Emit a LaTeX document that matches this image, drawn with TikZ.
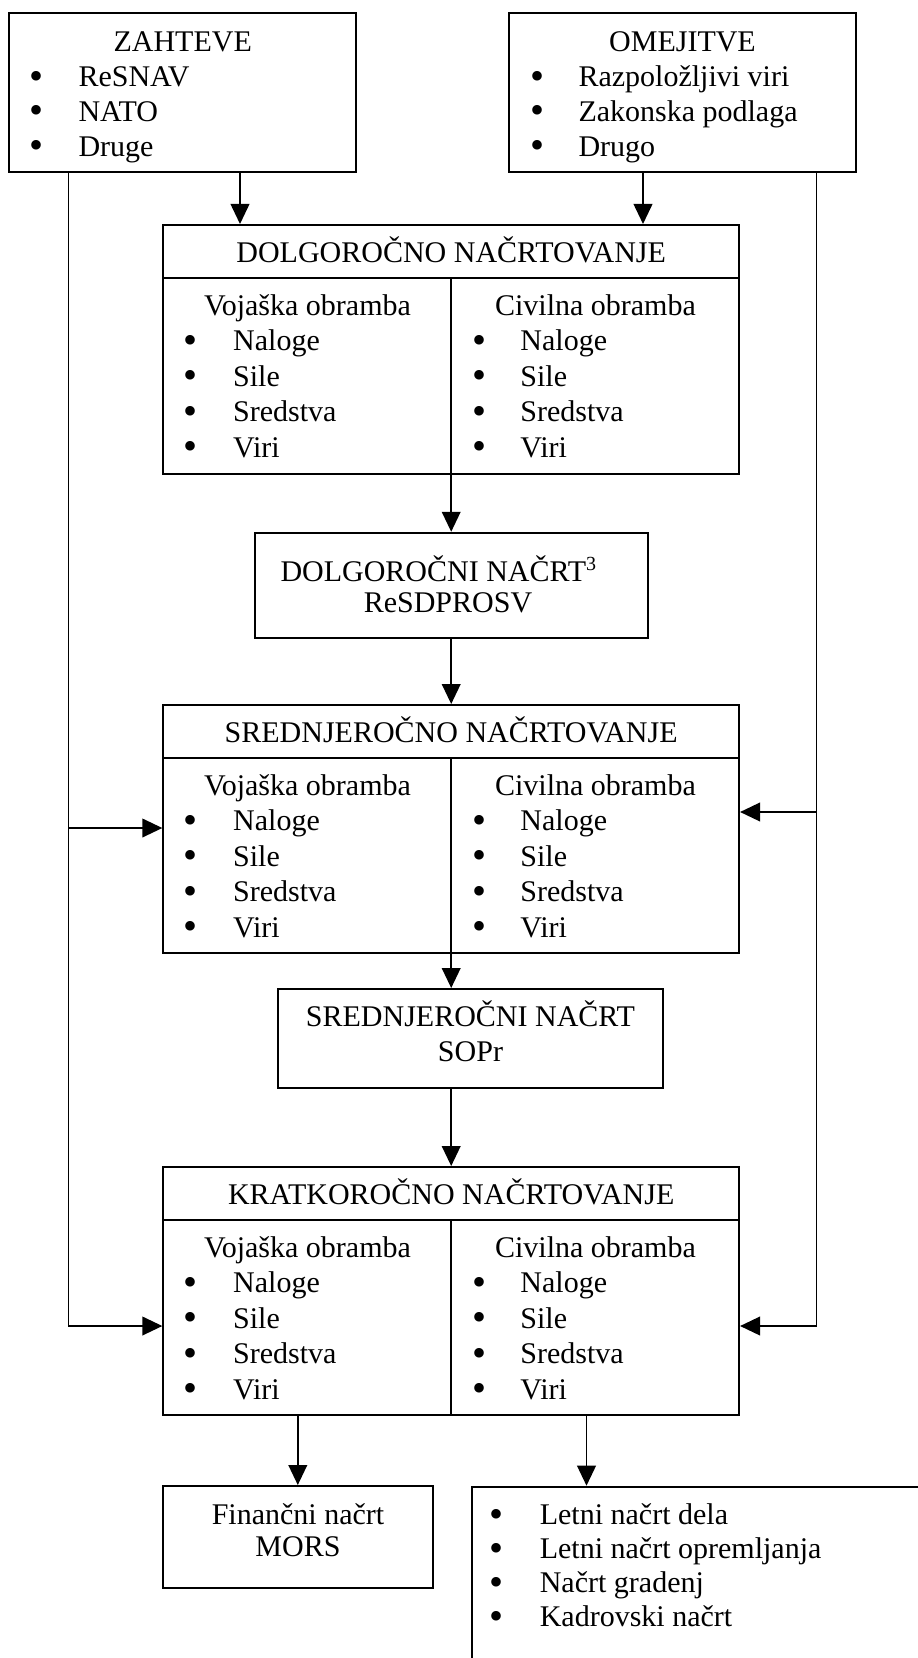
\documentclass[tikz,border=0pt]{standalone}
\usepackage{fontspec}
\setmainfont{Liberation Serif}
\usetikzlibrary{arrows.meta}

\begin{document}
\begin{tikzpicture}[x=0.4pt, y=-0.4pt,
		every node/.style={font=\fontsize{12pt}{14pt}\selectfont, inner sep=0pt},
		box/.style={draw, rectangle, line width=0.8pt},
		arr/.style={line width=0.6pt, -{Triangle[length=8pt, width=7.5pt]}},
		bul/.style={anchor=base, yshift=-1pt, font=\fontsize{16pt}{16pt}\selectfont},
		txt/.style={anchor=base west}]

		\useasboundingbox (0,0) rectangle (918,1658);
		\clip (0,0) rectangle (918,1658);

		\node[box, minimum width=138.7pt, minimum height=63.7pt] (zah) at (182.7,92.3) {};
		\node[box, minimum width=138.7pt, minimum height=63.7pt] (ome) at (682.3,92.3) {};
		\node[box, minimum width=230.3pt, minimum height=99.6pt] (dolg) at (451.2,349.5) {};
		\node[box, minimum width=157.2pt, minimum height=42.2pt] (dnac) at (451.2,585.5) {};
		\node[box, minimum width=230.3pt, minimum height=99.2pt] (sred) at (451.2,829) {};
		\node[box, minimum width=154pt, minimum height=39.6pt] (snac) at (470.5,1038.5) {};
		\node[box, minimum width=230.3pt, minimum height=99.2pt] (krat) at (451.2,1291) {};
		\node[box, minimum width=107.8pt, minimum height=40.8pt] (fin) at (297.8,1537) {};
		\node[box, minimum width=200pt, minimum height=100pt, anchor=north west] (let) at (470.7,1485.7) {};

		\node[anchor=base] (zah-t) at (182.7,52) {ZAHTEVE};
		\foreach \lbl [count=\r] in {ReSNAV, NATO, Druge} {
			\node[bul] (zah-b\r) at (37,52+\r*34.7) {•};
			\node[txt] (zah-i\r) at (78,52+\r*34.7) {\lbl};
		}

		\node[anchor=base] (ome-t) at (682.5,52) {OMEJITVE};
		\foreach \lbl [count=\r] in {Razpoložljivi viri, Zakonska podlaga, Drugo} {
			\node[bul] (ome-b\r) at (537,52+\r*34.7) {•};
			\node[txt] (ome-i\r) at (578,52+\r*34.7) {\lbl};
		}

		\foreach \b/\title in {dolg/DOLGOROČNO, sred/SREDNJEROČNO, krat/KRATKOROČNO} {
			\draw[line width=0.8pt] ([yshift=-21.6pt]\b.north west) -- ([yshift=-21.6pt]\b.north east);
			\draw[line width=0.6pt] ([yshift=-21.6pt]\b.north) -- (\b.south);
			\node[anchor=base] (\b-t) at ([yshift=-15.4pt]\b.north) {\title{} NAČRTOVANJE};
			\node[anchor=base] (\b-vh) at ([xshift=-57.5pt, yshift=-36.4pt]\b.north) {Vojaška obramba};
			\node[anchor=base] (\b-ch) at ([xshift=57.7pt, yshift=-36.4pt]\b.north) {Civilna obramba};
			\foreach \lbl [count=\r] in {Naloge, Sile, Sredstva, Viri} {
				\node[bul] (\b-vb\r) at ([xshift=-104.2pt, yshift=-36.4pt-\r*14.2pt]\b.north) {•};
				\node[txt] (\b-vi\r) at ([xshift=-87.4pt, yshift=-36.4pt-\r*14.2pt]\b.north) {\lbl};
				\node[bul] (\b-cb\r) at ([xshift=11.5pt, yshift=-36.4pt-\r*14.2pt]\b.north) {•};
				\node[txt] (\b-ci\r) at ([xshift=27.5pt, yshift=-36.4pt-\r*14.2pt]\b.north) {\lbl};
			}
		}

		\node[txt] (dnac-1) at (280,581.7) {DOLGOROČNI NAČRT\textsuperscript{3}};
		\node[anchor=base] (dnac-2) at (448,612.7) {ReSDPROSV};

		\node[anchor=base] (snac-1) at (470.5,1026.7) {SREDNJEROČNI NAČRT};
		\node[anchor=base] (snac-2) at (470.5,1061.7) {SOPr};

		\node[anchor=base] (fin-1) at (298,1524) {Finančni načrt};
		\node[anchor=base] (fin-2) at (298,1556.7) {MORS};

		\foreach \lbl [count=\r] in {Letni načrt dela, Letni načrt opremljanja, Načrt gradenj, Kadrovski načrt} {
			\node[bul] (let-b\r) at (496.7,1490.5+\r*34) {•};
			\node[txt] (let-i\r) at (539.3,1490.5+\r*34) {\lbl};
		}

		\coordinate (zin) at (240,0);
		\coordinate (oin) at (643,0);
		\coordinate (lft) at (68.3,1326);
		\coordinate (rgt) at (816.7,1326);
		\coordinate (sl) at (0,828);
		\coordinate (sr) at (0,812);
		\coordinate (lin) at (586.5,0);

		\draw[arr] (zah.south -| zin) -- (dolg.north -| zin);
		\draw[arr] (ome.south -| oin) -- (dolg.north -| oin);
		\draw[arr] (zah.south -| lft) -- (lft) -- (krat.west |- lft);
		\draw[arr] (lft |- sl) -- (sred.west |- sl);
		\draw[arr] (ome.south -| rgt) -- (rgt) -- (krat.east |- rgt);
		\draw[arr] (rgt |- sr) -- (sred.east |- sr);
		\draw[arr] (dolg.south) -- (dnac.north);
		\draw[arr] (dnac.south) -- (sred.north);
		\draw[arr] (sred.south) -- (snac.north -| sred.south);
		\draw[arr] (snac.south -| sred.south) -- (krat.north);
		\draw[arr] (krat.south -| fin.north) -- (fin.north);
		\draw[arr] (krat.south -| lin) -- (let.north -| lin);

\end{tikzpicture}
\end{document}
